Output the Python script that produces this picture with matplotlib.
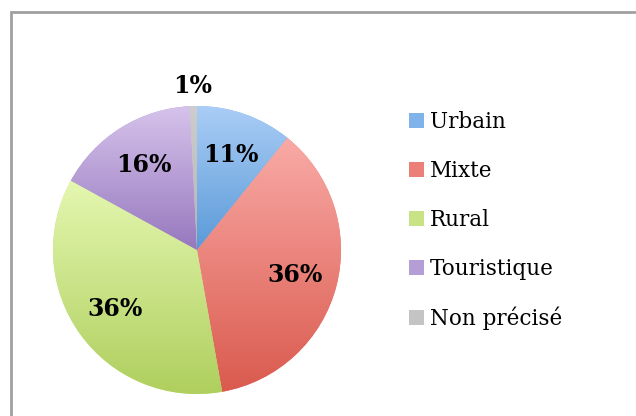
import matplotlib
matplotlib.use("Agg")
import matplotlib.pyplot as plt
import numpy as np
from matplotlib.patches import Rectangle
from matplotlib.colors import LinearSegmentedColormap

categories = ["Urbain", "Mixte", "Rural", "Touristique", "Non précisé"]
values = [10.8, 36.4, 35.8, 16.2, 0.8]
top_colors = ["#AACDF6", "#F9AAA6", "#E4F7B0", "#D6C3EB", "#CDCDCD"]
bottom_colors = ["#5A9AD8", "#DA5A4E", "#AFCF5E", "#9678BE", "#B4B4B4"]
mid_colors = ["#80B3EA", "#EC7F78", "#C8E286", "#B49ED5", "#C4C4C4"]

W, H = 636, 416
fig = plt.figure(figsize=(W / 100, H / 100), dpi=100)
fig.patch.set_facecolor("white")

# outer frame (partially visible)
fig.patches.append(Rectangle((11 / W, -0.2), 2.0, (H - 12) / H + 0.2, transform=fig.transFigure,
                             fill=False, edgecolor="#A0A0A0", linewidth=2.0))

cx, cy, r = 197, H - 250, 144
ax = fig.add_axes([(cx - r) / W, (cy - r) / H, 2 * r / W, 2 * r / H])
wedges, texts, autotexts = ax.pie(values, startangle=90, counterclock=False,
                                  colors=mid_colors, autopct="%.0f%%", pctdistance=0.70,
                                  wedgeprops=dict(linewidth=0),
                                  textprops=dict(fontsize=17, fontweight="bold",
                                                 family="DejaVu Serif", color="black"))
ax.set_xlim(-1, 1)
ax.set_ylim(-1, 1)
ax.set_aspect("equal")

for w, c1, c2 in zip(wedges, top_colors, bottom_colors):
    ext = w.get_path().get_extents()
    cmap = LinearSegmentedColormap.from_list("g", [c2, c1])
    grad = np.linspace(0, 1, 256).reshape(-1, 1)
    im = ax.imshow(grad, cmap=cmap, extent=[ext.x0, ext.x1, ext.y0, ext.y1],
                   origin="lower", aspect="auto", zorder=1.5)
    im.set_clip_path(w)

for t in autotexts:
    t.set_zorder(3)

# move the small slice label outside
w = wedges[-1]
ang = np.deg2rad((w.theta1 + w.theta2) / 2)
autotexts[-1].set_position((1.14 * np.cos(ang), 1.14 * np.sin(ang)))
ax.set_xlim(-1, 1)
ax.set_ylim(-1, 1)

handles = [Rectangle((0, 0), 1, 1, facecolor=c, edgecolor="none") for c in mid_colors]
fig.legend(handles, categories, loc="upper left", bbox_to_anchor=(409 / W, 1 - 111 / H),
           frameon=False, prop=dict(family="DejaVu Serif", size=15.5),
           handlelength=0.7, handleheight=0.7, handletextpad=0.28,
           labelspacing=1.25, borderpad=0, borderaxespad=0)

fig.savefig("out.png", dpi=100)
